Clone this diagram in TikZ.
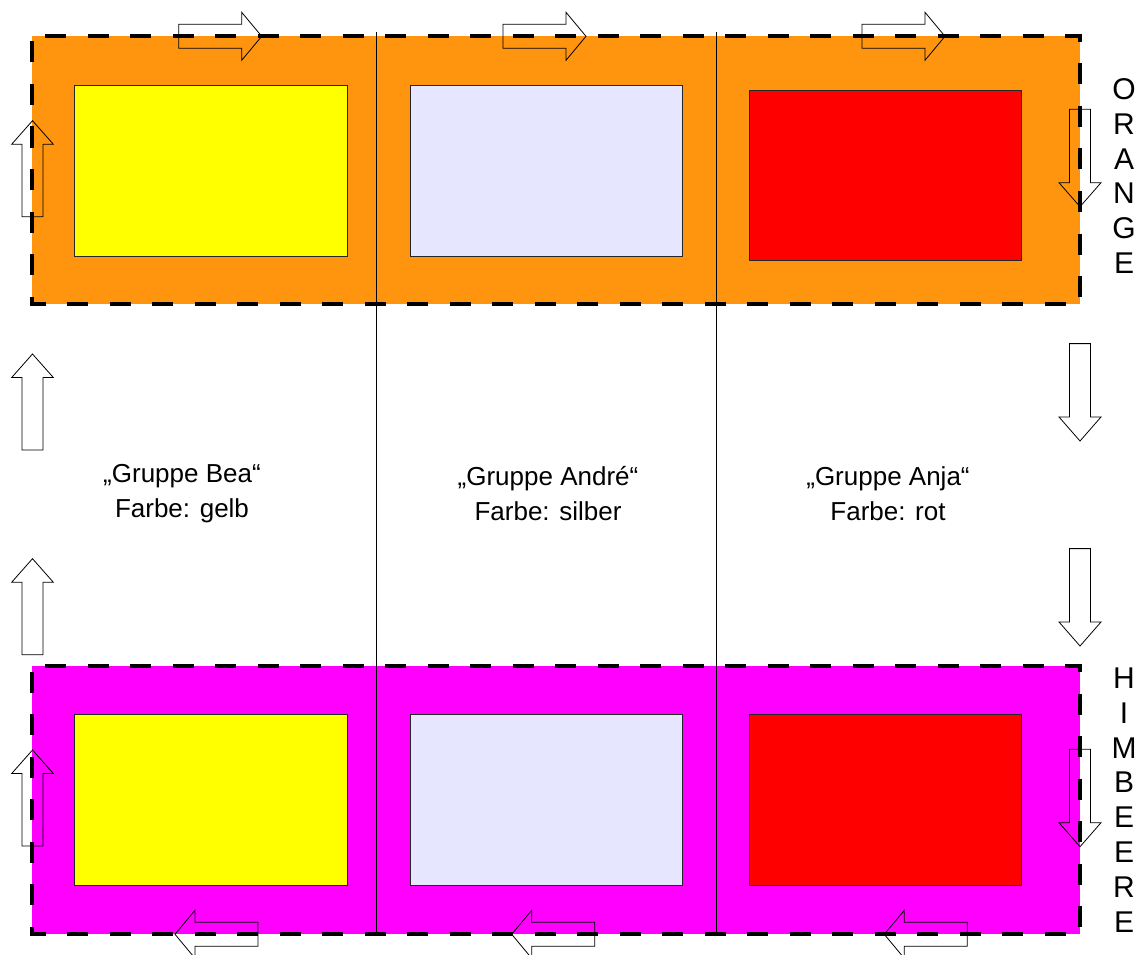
\documentclass[tikz,border=0pt]{standalone}
\usepackage{fontspec}
\setmainfont{Liberation Sans}
\definecolor{bandorange}{HTML}{FF950E}
\definecolor{bandraspberry}{HTML}{FF00FF}
\definecolor{cardyellow}{HTML}{FFFF00}
\definecolor{cardsilver}{HTML}{E6E6FF}
\definecolor{cardred}{HTML}{FF0000}
\begin{document}
\begin{tikzpicture}[x=1pt,y=-1pt,
  band/.style={line width=3.6pt, dash pattern=on 21pt off 21.5pt, dash phase=29.5pt},
  card/.style={draw=black!85, line width=0.9pt},
  divider/.style={line width=0.9pt},
  flow/.style={draw=black, line width=0.8pt, line join=miter},
  grouplabel/.style={font=\fontsize{26}{35}\selectfont, align=center, inner sep=0pt},
  sidelabel/.style={font=\fontsize{30}{34.8}\selectfont, align=center, inner sep=0pt},
  uparrow/.pic={\draw[flow] (0,0) -- (20.8,23.5) -- (10.5,23.5) -- (10.5,96) -- (-10.5,96) -- (-10.5,23.5) -- (-20.8,23.5) -- cycle;},
  downarrow/.pic={\draw[flow] (0,0) -- (-21,-24) -- (-10.5,-24) -- (-10.5,-97.4) -- (10.5,-97.4) -- (10.5,-24) -- (21,-24) -- cycle;},
  rightarrow/.pic={\draw[flow] (0,0) -- (-20,-24) -- (-20,-12) -- (-83,-12) -- (-83,12) -- (-20,12) -- (-20,24) -- cycle;},
  leftarrow/.pic={\draw[flow] (0,0) -- (20,-24) -- (20,-12) -- (83,-12) -- (83,12) -- (20,12) -- (20,24) -- cycle;}
]
\useasboundingbox (0,0) rectangle (1143,955);

% the two coloured bands with dashed borders
\fill[bandorange] (32,36) rectangle (1080,304);
\draw[band] (32,36) -- (1080,36) -- (1080,304) -- (32,304) -- cycle;
\fill[bandraspberry] (32,666) rectangle (1080,934);
\draw[band] (32,666) -- (1080,666) -- (1080,934) -- (32,934) -- cycle;

% coloured cards in the bands
\draw[card, fill=cardyellow] (74.7,85.3) rectangle (347.3,256);
\draw[card, fill=cardsilver] (410,85.3) rectangle (682,256);
\draw[card, fill=cardred] (749,90) rectangle (1021.7,260.7);
\draw[card, fill=cardyellow] (74.7,714.7) rectangle (347.3,885.3);
\draw[card, fill=cardsilver] (410,714.7) rectangle (682,885.3);
\draw[card, fill=cardred] (749,714.7) rectangle (1021.7,885.3);

% column dividers
\coordinate (d1top) at (376,32);
\coordinate (d1bot) at (376,935);
\coordinate (d2top) at (716,32);
\coordinate (d2bot) at (716,935);
\draw[divider] (d1top) -- (d1bot);
\draw[divider] (d2top) -- (d2bot);

% direction arrows around the circuit
\pic (r1) at (261.7,36.3) {rightarrow};
\pic (r2) at (586,36.3) {rightarrow};
\pic (r3) at (945,36.3) {rightarrow};
\pic (d1) at (1080,206.7) {downarrow};
\pic (d2) at (1080,441) {downarrow};
\pic (d3) at (1080,646) {downarrow};
\pic (d4) at (1080,846.7) {downarrow};
\pic (l1) at (884.3,934.3) {leftarrow};
\pic (l2) at (511.7,934.3) {leftarrow};
\pic (l3) at (175,934.3) {leftarrow};
\pic (u1) at (32.5,750) {uparrow};
\pic (u2) at (32.5,558.7) {uparrow};
\pic (u3) at (32.5,354) {uparrow};
\pic (u4) at (32.5,120.7) {uparrow};

% group labels
\node[grouplabel] (bea) at (182,494) {„Gruppe Bea“\\Farbe: gelb};
\node[grouplabel] (andre) at (548,494) {„Gruppe André“\\Farbe: silber};
\node[grouplabel] (anja) at (888,494) {„Gruppe Anja“\\Farbe: rot};

% band names, written top to bottom
\node[sidelabel] (orange) at (1124,176) {O\\R\\A\\N\\G\\E};
\node[sidelabel] (himbeere) at (1124,800) {H\\I\\M\\B\\E\\E\\R\\E};
\end{tikzpicture}
\end{document}
